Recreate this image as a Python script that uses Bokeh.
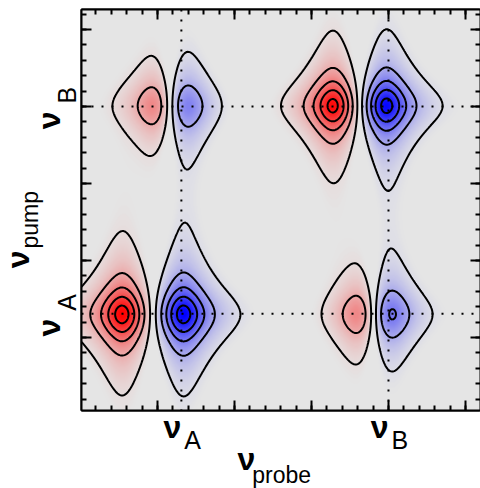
import numpy as np
from bokeh.plotting import figure
from bokeh.layouts import column, row
from bokeh.core.properties import value
from bokeh.models import (Range1d, LinearAxis, SingleIntervalTicker, Span,
                          LinearColorMapper, CustomJSTickFormatter)
from bokeh.embed import file_html
from bokeh.resources import INLINE

# ---- data -------------------------------------------------------------
mode_names = ["A", "B"]
mode_freqs = [0.31, 3.0]            # nu_A, nu_B (axis units)

# four peaks: (A,A), (B,B), (probe A, pump B), (probe B, pump A)
peak_probe_red = [-0.45, 2.29, -0.03, 2.63]
peak_probe_blue = [0.325, 2.96, 0.36, 3.01]
peak_pump = [0.30, 3.01, 3.01, 0.30]
peak_width_probe = [0.29, 0.28, 0.29, 0.29]
peak_width_pump = [0.35, 0.33, 0.35, 0.35]
peak_amp_red = [1.13, 1.13, 0.66, 0.70]
peak_amp_blue = [1.13, 1.13, 0.68, 0.74]

contour_levels = [-0.9, -0.7, -0.5, -0.3, -0.1, 0.1, 0.3, 0.5, 0.7, 0.9]

x_start, x_end = -0.987, 4.195
y_start, y_end = -0.948, 4.26

# ---- field -------------------------------------------------------------
def lor(u, g):
    return 1.0 / (1.0 + (u / g) ** 2)

nx, ny = 399, 401
xs = np.linspace(x_start, x_end, nx)
ys = np.linspace(y_start, y_end, ny)
X, Y = np.meshgrid(xs, ys)
Z = np.zeros_like(X)
for xr, xb, y0, gx, gy, ar, ab in zip(peak_probe_red, peak_probe_blue, peak_pump,
                                      peak_width_probe, peak_width_pump,
                                      peak_amp_red, peak_amp_blue):
    Z += (ar * lor(X - xr, gx) - ab * lor(X - xb, gx)) * lor(Y - y0, gy)

# blue -> gray -> red palette (gray dead zone around zero)
bg = (229, 229, 229)
dead = 0.06
pal = []
n = 255
for i in range(n):
    t = i / (n - 1) * 2 - 1
    a = max(abs(t) - dead, 0.0) / (1 - dead)
    if t < 0:
        c = (bg[0] * (1 - a), bg[1] * (1 - a), bg[2] + (255 - bg[2]) * a)
    else:
        c = (bg[0] + (255 - bg[0]) * a, bg[1] * (1 - a), bg[2] * (1 - a))
    pal.append("#%02x%02x%02x" % tuple(int(round(v)) for v in c))
mapper = LinearColorMapper(palette=pal, low=-1, high=1)

x_range = Range1d(x_start, x_end)
y_range = Range1d(y_start, y_end)

# ---- main plot -----------------------------------------------------------
p = figure(width=401, height=412, output_backend="svg", toolbar_location=None,
           x_range=x_range, y_range=y_range,
           min_border_left=2, min_border_right=0, min_border_top=9, min_border_bottom=2)
p.background_fill_color = "#e5e5e5"
p.border_fill_color = "white"
p.outline_line_color = "black"
p.outline_line_width = 2
p.grid.visible = False

p.add_layout(LinearAxis(), "right")
p.add_layout(LinearAxis(), "above")
for ax in p.axis:
    ax.ticker = SingleIntervalTicker(interval=1, num_minor_ticks=5)
    ax.formatter = CustomJSTickFormatter(code="return ''")
    ax.major_tick_in = 10
    ax.major_tick_out = 0
    ax.minor_tick_in = 5
    ax.minor_tick_out = 0
    ax.major_tick_line_width = 2
    ax.minor_tick_line_width = 2
    ax.major_tick_line_color = "black"
    ax.minor_tick_line_color = "black"
    ax.axis_line_width = 2
    ax.axis_line_color = "black"
    ax.major_label_text_font_size = "0px"
    ax.major_label_standoff = 0
    ax.axis_label_standoff = 0

p.image(image=[Z], x=x_start, y=y_start, dw=x_end - x_start, dh=y_end - y_start,
        color_mapper=mapper)
p.contour(x=xs, y=ys, z=Z, levels=contour_levels, line_color="black", line_width=2)

for v in mode_freqs:
    p.add_layout(Span(location=v, dimension="height", line_color="black",
                      line_width=2, line_dash="2 8"))
    p.add_layout(Span(location=v, dimension="width", line_color="black",
                      line_width=2, line_dash="2 8"))

FONT = value("Liberation Sans")

def blank(fig, fill="white"):
    fig.grid.visible = False
    fig.outline_line_color = None
    fig.background_fill_color = fill
    fig.border_fill_color = fill

# ---- left strip: pump tick labels and title (shares y range) -------------
left = figure(width=79, height=412, output_backend="svg", toolbar_location=None,
              x_range=Range1d(0, 79), y_range=y_range,
              x_axis_location=None, y_axis_location=None,
              min_border_left=0, min_border_right=0, min_border_top=9, min_border_bottom=2)
blank(left)
left.text(x=[48] * 2, y=mode_freqs, text=["ν"] * 2, angle=np.pi / 2, y_offset=5,
          text_align="right", text_baseline="alphabetic", text_font=FONT,
          text_font_size="32px", text_font_style="bold", text_color="black")
left.text(x=[66] * 2, y=mode_freqs, text=mode_names, angle=np.pi / 2, y_offset=-3,
          text_align="left", text_baseline="alphabetic", text_font=FONT,
          text_font_size="25px", text_color="black")
left.text(x=[17], y=[1.13], text=["ν"], angle=np.pi / 2,
          text_align="right", text_baseline="alphabetic", text_font=FONT,
          text_font_size="32px", text_font_style="bold", text_color="black")
left.text(x=[29], y=[1.13], text=["pump"], angle=np.pi / 2, y_offset=-2,
          text_align="left", text_baseline="alphabetic", text_font=FONT,
          text_font_size="23px", text_color="black")

# ---- bottom strip: probe tick labels and title (shares x range) ----------
# transparent strip pulled up by 12 px so that the text boxes fit inside it
bottom = figure(width=480, height=88, output_backend="svg", toolbar_location=None,
                x_range=x_range, y_range=Range1d(88, 0), margin=(-12, 0, 0, 0),
                x_axis_location=None, y_axis_location=None,
                min_border_left=81, min_border_right=0, min_border_top=0, min_border_bottom=0)
blank(bottom, fill=None)
bottom.text(x=mode_freqs, y=[26] * 2, text=["ν"] * 2, x_offset=0,
            text_align="right", text_baseline="alphabetic", text_font=FONT,
            text_font_size="32px", text_font_style="bold", text_color="black")
bottom.text(x=mode_freqs, y=[39] * 2, text=mode_names, x_offset=3,
            text_align="left", text_baseline="alphabetic", text_font=FONT,
            text_font_size="25px", text_color="black")
bottom.text(x=[1.27], y=[58], text=["ν"],
            text_align="right", text_baseline="alphabetic", text_font=FONT,
            text_font_size="32px", text_font_style="bold", text_color="black")
bottom.text(x=[1.27], y=[74], text=["probe"], x_offset=-3,
            text_align="left", text_baseline="alphabetic", text_font=FONT,
            text_font_size="23px", text_color="black")

layout = column(row(left, p, spacing=0), bottom, spacing=0)
open("out.html", "w").write(file_html(layout, INLINE))
